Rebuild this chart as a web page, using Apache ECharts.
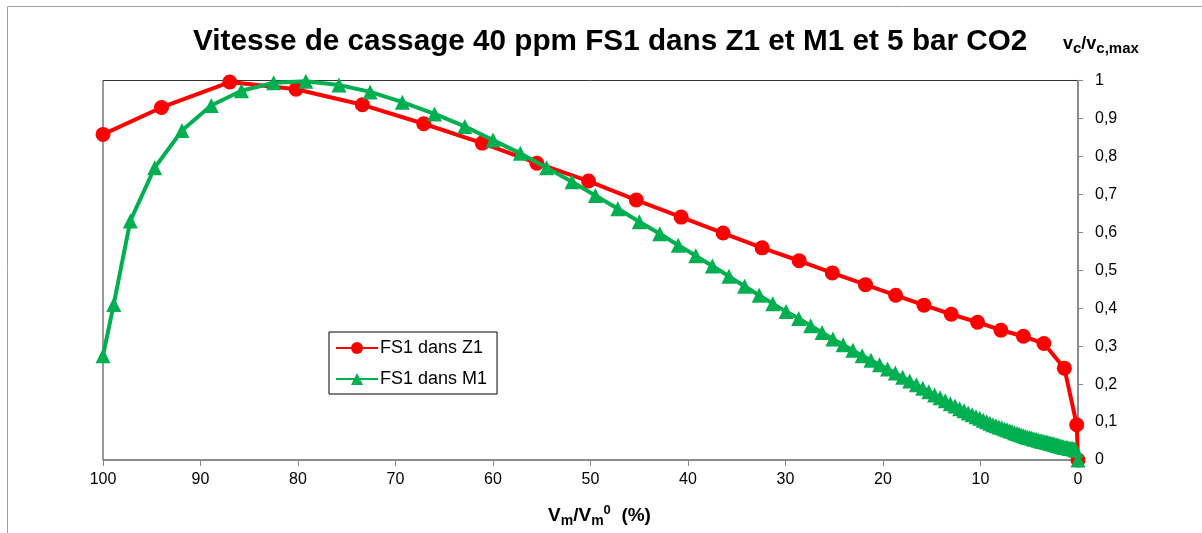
<!DOCTYPE html>
<html>
<head>
<meta charset="utf-8">
<script src="https://cdn.jsdelivr.net/npm/echarts@6/dist/echarts.min.js"></script>
<style>html,body{margin:0;padding:0;background:#fff}#c{width:1202px;height:533px}</style>
</head>
<body>
<div id="c"></div>
<script>
const titleText = 'Vitesse de cassage 40 ppm FS1 dans Z1 et M1 et 5 bar CO2';
const seriesNames = ['FS1 dans Z1', 'FS1 dans M1'];
const xTicks = { min: 0, max: 100, interval: 10 };
const yTicks = { min: 0, max: 1, interval: 0.1 };

// FS1 dans Z1 : [Vm/Vm0 (%), vc/vc,max]
const z1Data = [
  [100, 0.858], [94.0, 0.929], [87.0, 0.996], [80.2, 0.977], [73.4, 0.936],
  [67.1, 0.886], [61.1, 0.835], [55.5, 0.782], [50.2, 0.735], [45.3, 0.685],
  [40.7, 0.640], [36.4, 0.598], [32.4, 0.559], [28.6, 0.525], [25.2, 0.493],
  [21.8, 0.462], [18.7, 0.434], [15.8, 0.408], [13.0, 0.384], [10.3, 0.363],
  [7.9, 0.342], [5.6, 0.326], [3.5, 0.307], [1.4, 0.242], [0.13, 0.093], [0, 0]
];

// FS1 dans M1 : [Vm/Vm0 (%), vc/vc,max]
const m1Data = [
  [100, 0.275], [98.9, 0.41], [97.2, 0.63], [94.7, 0.77], [91.9, 0.868],
  [88.9, 0.934], [85.8, 0.973], [82.5, 0.994], [79.2, 0.998], [75.8, 0.988],
  [72.6, 0.970], [69.3, 0.943], [66.0, 0.912], [62.9, 0.879], [60.0, 0.843],
  [57.2, 0.808], [54.5, 0.770], [51.9, 0.733], [49.5, 0.697], [47.2, 0.662],
  [45.0, 0.628], [42.9, 0.596], [41.0, 0.566], [39.2, 0.538], [37.5, 0.511],
  [35.8, 0.484], [34.2, 0.458], [32.7, 0.434], [31.3, 0.412], [29.94, 0.391],
  [28.65, 0.373], [27.42, 0.354], [26.25, 0.336], [25.14, 0.319], [24.09, 0.304],
  [23.09, 0.289], [22.14, 0.275], [21.23, 0.263], [20.36, 0.251], [19.53, 0.240],
  [18.74, 0.229], [17.98, 0.218], [17.26, 0.208], [16.57, 0.198], [15.92, 0.189],
  [15.30, 0.180], [14.71, 0.171], [14.15, 0.164], [13.61, 0.156], [13.10, 0.148],
  [12.61, 0.142], [12.14, 0.135], [11.69, 0.130], [11.26, 0.124], [10.85, 0.119],
  [10.46, 0.114], [10.08, 0.110], [9.72, 0.105], [9.37, 0.101], [9.04, 0.097],
  [8.72, 0.093], [8.41, 0.090], [8.11, 0.087], [7.82, 0.085], [7.54, 0.082],
  [7.27, 0.080], [7.01, 0.077], [6.76, 0.075], [6.51, 0.072], [6.27, 0.070],
  [6.04, 0.068], [5.82, 0.066], [5.60, 0.064], [5.39, 0.062], [5.19, 0.060],
  [4.99, 0.059], [4.80, 0.058], [4.61, 0.056], [4.43, 0.055], [4.25, 0.054],
  [4.07, 0.052], [3.90, 0.051], [3.73, 0.050], [3.57, 0.049], [3.41, 0.048],
  [3.25, 0.047], [3.10, 0.046], [2.95, 0.045], [2.80, 0.044], [2.66, 0.043],
  [2.52, 0.042], [2.38, 0.041], [2.24, 0.040], [2.11, 0.039], [1.98, 0.038],
  [1.85, 0.037], [1.73, 0.036], [1.60, 0.035], [1.47, 0.034], [1.34, 0.033],
  [1.20, 0.033], [1.07, 0.032], [0.94, 0.031], [0.82, 0.031], [0.70, 0.030],
  [0.58, 0.030], [0.46, 0.029], [0.34, 0.028], [0.22, 0.026], [0, 0]
];

const FONT = 'Liberation Sans, Arial, sans-serif';
const chart = echarts.init(document.getElementById('c'), null, { renderer: 'canvas' });
chart.setOption({
  animation: false,
  backgroundColor: '#ffffff',
  graphic: [
    { type: 'line', shape: { x1: 7.5, y1: 6.5, x2: 1202, y2: 6.5 }, style: { stroke: '#a0a0a0', lineWidth: 1 } },
    { type: 'line', shape: { x1: 7.5, y1: 6.5, x2: 7.5, y2: 533 }, style: { stroke: '#a0a0a0', lineWidth: 1 } }
  ],
  title: {
    text: titleText,
    left: 188,
    top: 22,
    textStyle: { fontFamily: FONT, fontWeight: 'bold', fontSize: 29.7, color: '#000' }
  },
  legend: {
    orient: 'vertical',
    left: 329,
    top: 332,
    padding: [7, 10, 6, 6],
    itemGap: 13,
    itemWidth: 42,
    itemHeight: 15,
    borderColor: '#000',
    borderWidth: 1,
    textStyle: { fontFamily: FONT, fontSize: 18, color: '#000', padding: [0, 0, 0, -3] },
    data: seriesNames
  },
  grid: {
    left: 103, right: 124, top: 80.5, bottom: 71,
    show: true, borderColor: '#333', borderWidth: 1, backgroundColor: '#fff'
  },
  xAxis: {
    type: 'value',
    inverse: true,
    min: xTicks.min, max: xTicks.max, interval: xTicks.interval,
    name: '{b|V}{s|m}{b|/V}{s|m}{p|0}{b|  (%)}',
    nameLocation: 'middle',
    nameGap: 44,
    nameTextStyle: {
      padding: [0, 0, 0, 18],
      rich: {
        b: { fontFamily: FONT, fontWeight: 'bold', fontSize: 19, color: '#000' },
        s: { fontFamily: FONT, fontWeight: 'bold', fontSize: 14, color: '#000', verticalAlign: 'bottom', padding: [10, 0, 0, 0] },
        p: { fontFamily: FONT, fontWeight: 'bold', fontSize: 13, color: '#000', verticalAlign: 'top', padding: [0, 0, 8, 0] }
      }
    },
    axisLine: { show: true, lineStyle: { color: '#888', width: 1.5 } },
    axisTick: { show: true, inside: false, length: 6, lineStyle: { color: '#888' } },
    axisLabel: { fontFamily: FONT, fontSize: 16, color: '#000', margin: 12 },
    splitLine: { show: false }
  },
  yAxis: {
    type: 'value',
    position: 'right',
    min: yTicks.min, max: yTicks.max, interval: yTicks.interval,
    name: '{b|v}{s|c}{b|/v}{s|c,max}',
    nameLocation: 'end',
    nameGap: 24,
    nameTextStyle: {
      align: 'left',
      padding: [0, 0, 0, -15],
      rich: {
        b: { fontFamily: FONT, fontWeight: 'bold', fontSize: 18, color: '#000' },
        s: { fontFamily: FONT, fontWeight: 'bold', fontSize: 15, color: '#000', verticalAlign: 'bottom', padding: [10, 0, 0, 0] }
      }
    },
    axisLine: { show: true, lineStyle: { color: '#888', width: 1.5 } },
    axisTick: { show: true, inside: false, length: 5, lineStyle: { color: '#888' } },
    axisLabel: {
      fontFamily: FONT, fontSize: 16, color: '#000', margin: 17,
      formatter: v => String(Math.round(v * 10) / 10).replace('.', ',')
    },
    splitLine: { show: false }
  },
  series: [
    {
      name: seriesNames[0], type: 'line', data: z1Data,
      color: '#ff0000',
      lineStyle: { color: '#ff0000', width: 4 },
      symbol: 'circle', symbolSize: 15,
      itemStyle: { color: '#ff0000' },
      z: 2
    },
    {
      name: seriesNames[1], type: 'line', data: m1Data,
      color: '#00b050',
      lineStyle: { color: '#00b050', width: 4 },
      symbol: 'triangle', symbolSize: 15,
      itemStyle: { color: '#00b050' },
      z: 3
    }
  ]
});
</script>
</body>
</html>
